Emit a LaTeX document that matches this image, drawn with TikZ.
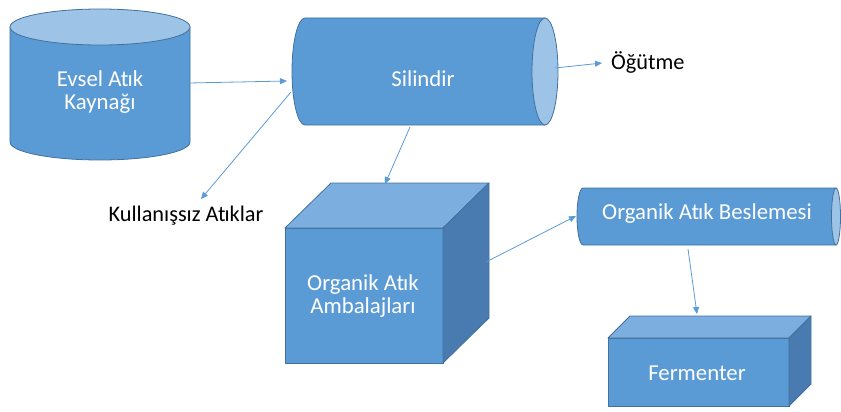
\documentclass[tikz,border=0pt]{standalone}
\usepackage{fontspec}
\setmainfont{Carlito}
\usetikzlibrary{arrows.meta}
\definecolor{obody}{HTML}{5B9BD5}
\definecolor{oedge}{HTML}{41719C}
\definecolor{olight}{HTML}{9DC3E6}
\definecolor{otop}{HTML}{7DAEE0}
\definecolor{oside}{HTML}{4A7BB0}
\newcommand{\Atk}{At\kern-1pt ık}
\tikzset{
  shapeline/.style={draw=oedge, line width=0.8pt, line join=round},
  bodyfill/.style={shapeline, fill=obody},
  endfill/.style={shapeline, fill=olight},
  topfill/.style={shapeline, fill=otop},
  sidefill/.style={shapeline, fill=oside},
  intext/.style={text=white, align=center, font=\fontsize{22.8}{22.5}\selectfont, inner sep=0pt},
  outtext/.style={text=black, font=\fontsize{22.3}{23}\selectfont, inner sep=0pt},
  conn/.style={draw=obody, line width=0.8pt, -{Triangle[length=7pt,width=6pt]}},
}
\begin{document}
\begin{tikzpicture}[x=1pt,y=-1pt]
\useasboundingbox (0,0) rectangle (841,412);
% Evsel cylinder (vertical)
\path[bodyfill] (10,27) -- (10,142) arc[start angle=180,end angle=0,x radius=90,y radius=18] -- (190,27) -- cycle;
\path[endfill] (100,27) ellipse [x radius=90, y radius=18];
\node[intext] (evsel) at (100,92) {Evsel \Atk\\Kaynağı};
% Silindir (horizontal)
\path[bodyfill] (545,18) -- (305,18) arc[start angle=270,end angle=90,x radius=13,y radius=53.5] -- (545,125) -- cycle;
\path[endfill] (545,71.5) ellipse [x radius=13, y radius=53.5];
\node[intext] (silindir) at (423,79) {Silindir};
% Cube
\path[bodyfill] (285,228) rectangle (443,363);
\path[topfill] (285,228) -- (331,183) -- (489,183) -- (443,228) -- cycle;
\path[sidefill] (443,228) -- (489,183) -- (489,318) -- (443,363) -- cycle;
\node[intext] (ambalaj) at (363,296) {Organik \Atk\\Ambalajları};
% Beslemesi small cylinder
\path[bodyfill] (836,188) -- (583,188) arc[start angle=270,end angle=90,x radius=6,y radius=28.5] -- (836,245) -- cycle;
\path[endfill] (836,216.5) ellipse [x radius=4.5, y radius=28.5];
\node[intext] (besleme) at (707,214) {Organik \Atk{} Beslemesi};
% Fermenter box
\path[bodyfill] (608,338) rectangle (789,406);
\path[topfill] (608,338) -- (630,316) -- (811,316) -- (789,338) -- cycle;
\path[sidefill] (789,338) -- (811,316) -- (811,384) -- (789,406) -- cycle;
\node[intext] (ferm) at (697,373) {Fermenter};
% Outer labels
\node[outtext, anchor=west] (ogutme) at (611,62) {Öğütme};
\node[outtext] (kullan) at (186,216) {Kullanışsız \Atk lar};
% connector end points
\coordinate (a1) at (189,83);
\coordinate (a2) at (287,81);
\coordinate (b1) at (555,68);
\coordinate (b2) at (602,63);
\coordinate (c1) at (291,92);
\coordinate (c2) at (201,199);
\coordinate (d1) at (410,127);
\coordinate (d2) at (385,184);
\coordinate (e1) at (486,262);
\coordinate (e2) at (576,216);
\coordinate (f1) at (688,249);
\coordinate (f2) at (697,314);
\draw[conn] (a1) -- (a2);
\draw[conn] (b1) -- (b2);
\draw[conn] (c1) -- (c2);
\draw[conn] (d1) -- (d2);
\draw[conn] (e1) -- (e2);
\draw[conn] (f1) -- (f2);
\end{tikzpicture}
\end{document}
